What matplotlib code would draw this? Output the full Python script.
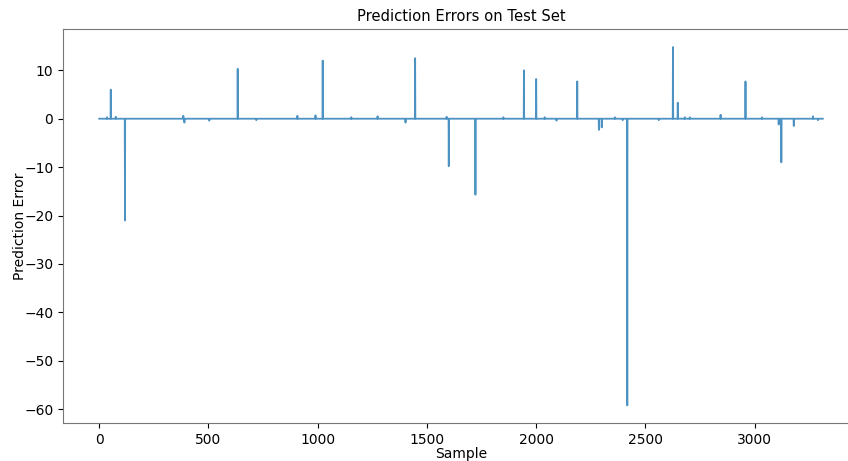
import numpy as np
import matplotlib.pyplot as plt

n_samples = 3313

# large errors (sample index, error)
spike_idx = [53, 118, 634, 1023, 1446, 1600, 1722, 1944, 2000, 2188,
             2287, 2300, 2417, 2626, 2648, 2958, 3110, 3122, 3179]
spike_val = [6.0, -21.0, 10.3, 12.0, 12.5, -9.8, -15.7, 10.0, 8.2, 7.7,
             -2.3, -1.8, -59.2, 14.8, 3.3, 7.7, -1.2, -9.0, -1.5]

# small wiggles around zero
small_idx = [36, 76, 385, 390, 504, 719, 907, 990, 1154, 1274, 1402,
             1590, 1850, 2039, 2093, 2360, 2396, 2561, 2680, 2703, 2844,
             3033, 3267, 3290]
small_val = [0.3, 0.4, 0.6, -0.8, -0.4, -0.3, 0.6, 0.7, 0.3, 0.5, -0.8,
             0.4, 0.3, 0.3, -0.4, 0.3, -0.3, -0.3, 0.3, 0.3, 0.8,
             0.3, 0.5, -0.3]

errors = np.zeros(n_samples)
errors[small_idx] = small_val
errors[spike_idx] = spike_val

fig = plt.figure(figsize=(8.48, 4.61), dpi=100)
# the original picture is cut off on the right, so the axes run past the edge
ax = fig.add_axes([0.0743, 0.0818, 0.9387, 0.855])
ax.plot(np.arange(n_samples), errors, color='#1f77b4', linewidth=1.3, alpha=0.8)
ax.set_title('Prediction Errors on Test Set', fontsize=10.6)
ax.set_xlabel('Sample', labelpad=0)
ax.set_ylabel('Prediction Error', labelpad=-2)
for s in ax.spines.values():
    s.set_color('#777777')
ax.spines['right'].set_visible(False)

fig.savefig('out.png', dpi=100)
